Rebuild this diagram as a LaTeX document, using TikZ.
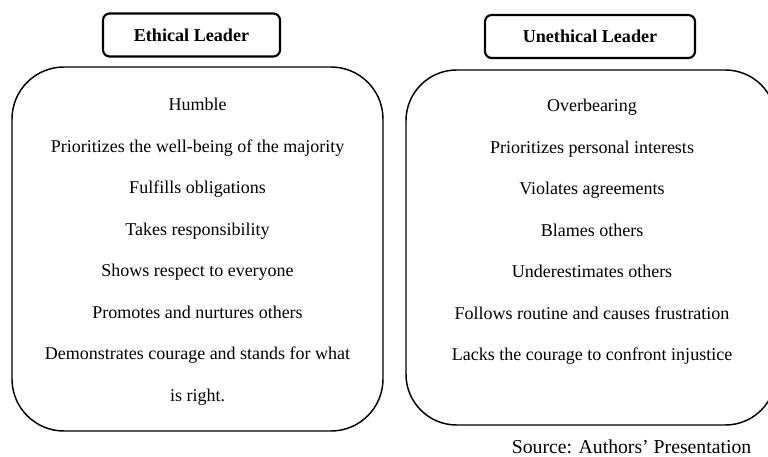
\documentclass[tikz,border=0pt]{standalone}
\usepackage{fontspec}
\setmainfont{Liberation Serif}
\begin{document}
\begin{tikzpicture}[x=0.75pt,y=-0.75pt,
  header/.style={draw, line width=1.6pt, rounded corners=5pt, font=\bfseries\fontsize{13.6}{15}\selectfont, inner sep=0pt},
  item/.style={font=\fontsize{13.5}{15}\selectfont, anchor=base},
  srcstyle/.style={font=\fontsize{14.8}{16}\selectfont, anchor=base east}]
\useasboundingbox (0,0) rectangle (768,457);
\clip (0,0) rectangle (768,457);
% header boxes
\node[header, minimum width=177*0.75pt, minimum height=43*0.75pt] (hl) at (191.5,35) {Ethical Leader};
\node[header, minimum width=210*0.75pt, minimum height=43*0.75pt] (hr) at (590,36.5) {Unethical Leader};
% big boxes
\draw[line width=1.1pt, rounded corners=39pt] (12,67) rectangle (383,431);
\draw[line width=1.1pt, rounded corners=38pt] (406,70) rectangle (776,425);
% left items
\node[item] (l1) at (197.5,110) {Humble};
\node[item] (l2) at (197.5,152) {Prioritizes the well-being of the majority};
\node[item] (l3) at (197.5,193) {Fulfills obligations};
\node[item] (l4) at (197.5,235) {Takes responsibility};
\node[item] (l5) at (197.5,276) {Shows respect to everyone};
\node[item] (l6) at (197.5,318) {Promotes and nurtures others};
\node[item] (l7) at (197.5,359) {Demonstrates courage and stands for what};
\node[item] (l8) at (197.5,401) {is right.};
% right items
\node[item] (r1) at (592,111) {Overbearing};
\node[item] (r2) at (592,153) {Prioritizes personal interests};
\node[item] (r3) at (592,194) {Violates agreements};
\node[item] (r4) at (592,236) {Blames others};
\node[item] (r5) at (592,277) {Underestimates others};
\node[item] (r6) at (592,319) {Follows routine and causes frustration};
\node[item] (r7) at (592,360) {Lacks the courage to confront injustice};
% source
\node[srcstyle] (src) at (756,453) {Source: Authors' Presentation};
\end{tikzpicture}
\end{document}
